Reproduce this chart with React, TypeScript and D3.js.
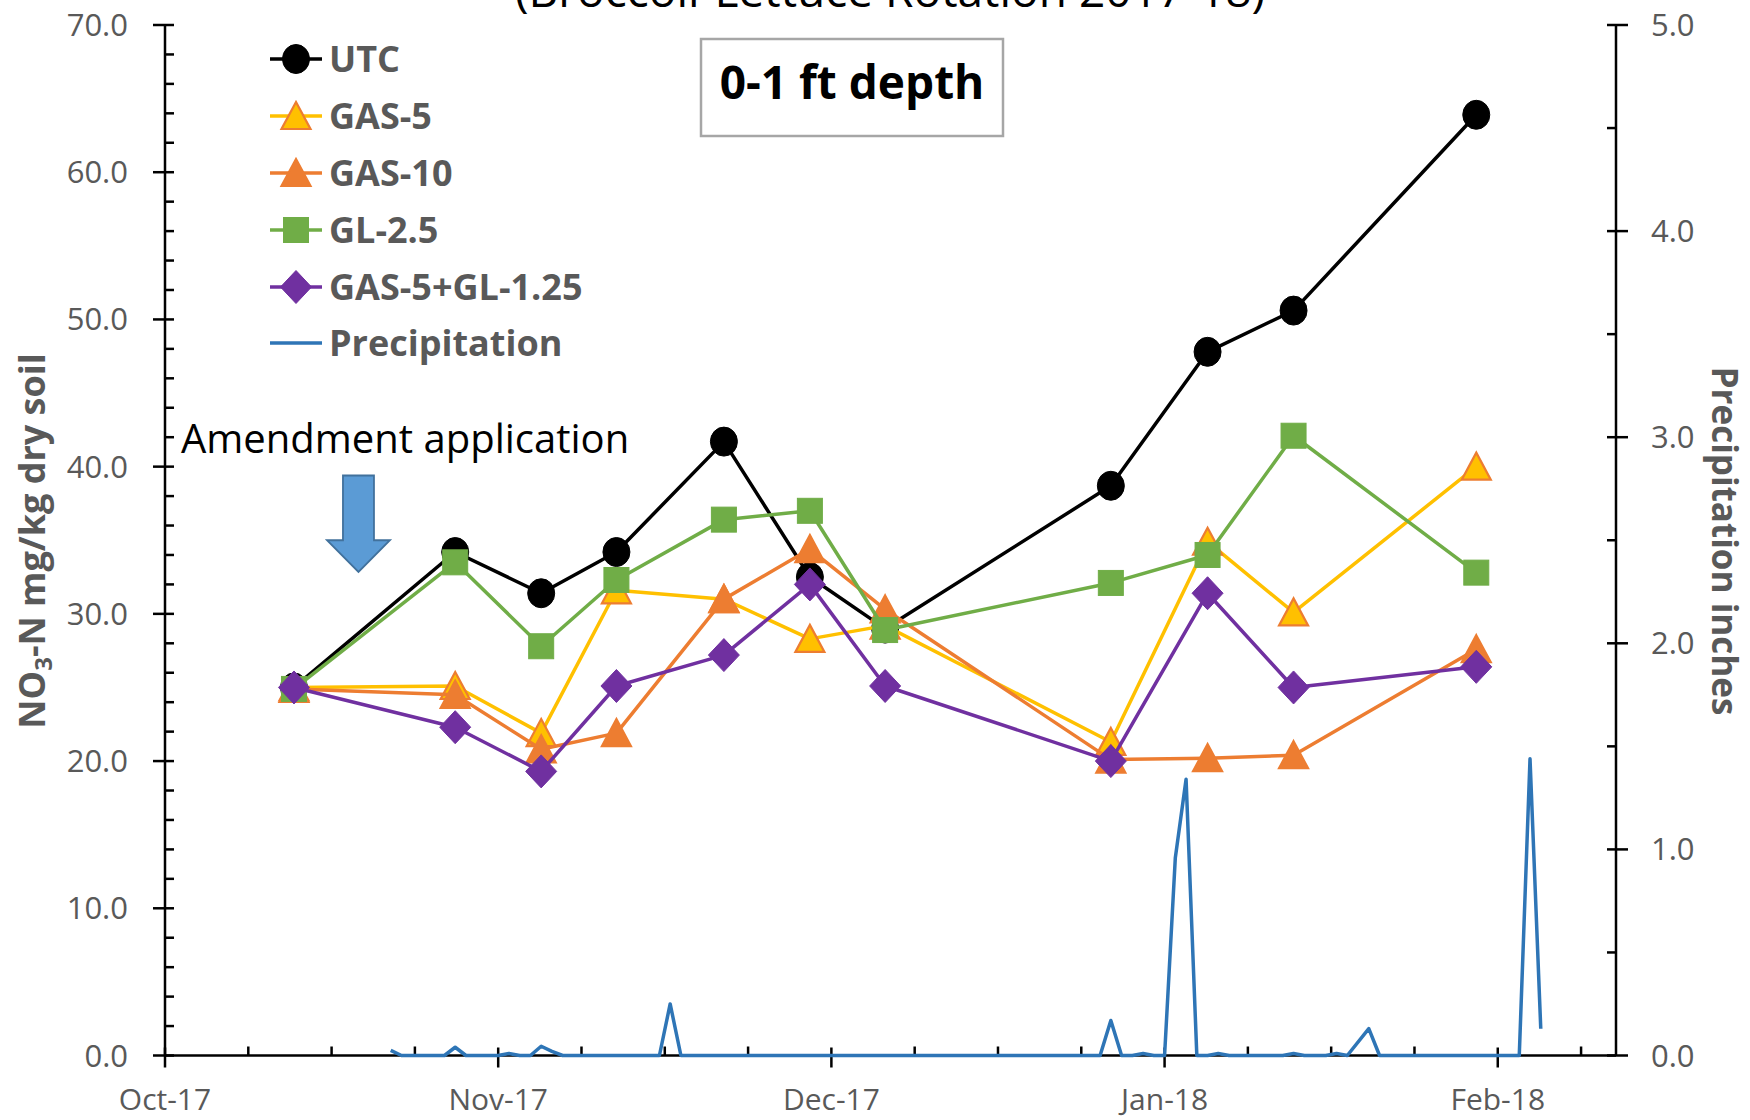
import React from 'react';
import * as d3 from 'd3';

// ---------- data ----------
const sampleDates = ['2017-10-13', '2017-10-28', '2017-11-05', '2017-11-12', '2017-11-22', '2017-11-30', '2017-12-07', '2017-12-28', '2018-01-06', '2018-01-14', '2018-01-31'];
const utc = [25.0, 34.2, 31.4, 34.2, 41.7, 32.5, 29.0, 38.7, 47.8, 50.6, 63.9];
const gas5 = [25.0, 25.1, 21.9, 31.6, 31.0, 28.3, 29.2, 21.3, 34.9, 30.1, 40.0];
const gas10 = [24.9, 24.5, 20.8, 21.9, 31.0, 34.4, 30.3, 20.1, 20.2, 20.4, 27.6];
const gl25 = [24.9, 33.5, 27.8, 32.3, 36.4, 37.0, 28.9, 32.1, 34.0, 42.1, 32.8];
const gas5gl = [25.0, 22.3, 19.3, 25.1, 27.2, 32.0, 25.1, 20.0, 31.4, 25.0, 26.4];

// daily precipitation (inches) starting 2017-10-22; null = no record
const precipStart = '2017-10-22';
const precip: (number | null)[] = [
  0.025, 0, 0, 0, 0, 0, 0.04, 0, 0, 0, 0, 0.01, 0, 0, 0.045, 0.02,
  0, 0, 0, 0, 0, 0, 0, 0, 0, 0,
  0.25,
  0, 0, 0, 0, 0, 0, 0, 0, 0, 0, 0, 0, 0, 0, 0, 0, 0, 0, 0, 0,
  0, 0, 0, 0, 0, 0, 0, 0, 0, 0, 0, 0, 0, 0, 0, 0, 0, 0, 0, 0,
  0.17, 0, 0, 0.01, 0, 0, 0.96, 1.34, 0, 0, 0.01,
  0, 0, 0, 0, 0, 0, 0.01, 0, 0, 0, 0.01, 0, null, 0.13,
  0, 0, 0, 0, 0, 0, 0, 0, 0, 0, 0, 0, 0, 0,
  1.44, 0.13,
];

const axisStart = '2017-10-01';
const xTickDays = [0, 31, 62, 93, 124];
const xTickLabels = ['Oct-17', 'Nov-17', 'Dec-17', 'Jan-18', 'Feb-18'];
const xMaxDay = 135;
const leftTicks = [0, 10, 20, 30, 40, 50, 60, 70];
const rightTicks = [0, 1, 2, 3, 4, 5];

const seriesNames = ['UTC', 'GAS-5', 'GAS-10', 'GL-2.5', 'GAS-5+GL-1.25'];
const seriesValues = [utc, gas5, gas10, gl25, gas5gl];
const seriesLine = ['#000000', '#FFC000', '#ED7D31', '#70AD47', '#7030A0'];
const seriesFill = ['#000000', '#FFC000', '#ED7D31', '#70AD47', '#7030A0'];
const seriesStroke = ['#000000', '#ED7D31', '#ED7D31', '#70AD47', '#7030A0'];
const seriesShape = ['circle', 'triangle', 'triangle', 'square', 'diamond'];
const precipColor = '#2E75B6';

// ---------- layout ----------
const W = 1750, H = 1120;
const LEFT = 165, RIGHT = 1616, TOP = 25, BOTTOM = 1055.5;
const FONT = '"Open Sans", "Noto Sans", sans-serif';
const GRAY = '#595959';

const parse = d3.timeParse('%Y-%m-%d');
const origin = parse(axisStart) as Date;
const dayOf = (s: string) => d3.timeDay.count(origin, parse(s) as Date);

const x = d3.scaleLinear().domain([0, xMaxDay]).range([LEFT, RIGHT]);
const yL = d3.scaleLinear().domain([0, 70]).range([BOTTOM, TOP]);
const yR = d3.scaleLinear().domain([0, 5]).range([BOTTOM, TOP]);

function Marker({ shape, cx, cy, fill, stroke }: any) {
  if (shape === 'circle') return <ellipse cx={cx} cy={cy} rx={13.5} ry={14.5} fill={fill} stroke={stroke} strokeWidth={1} />;
  if (shape === 'square') return <rect x={cx - 12.5} y={cy - 12.5} width={25} height={25} fill={fill} stroke={stroke} strokeWidth={1} />;
  if (shape === 'triangle') return <path d={`M${cx},${cy - 14} L${cx + 14.5},${cy + 13} L${cx - 14.5},${cy + 13} Z`} fill={fill} stroke={stroke} strokeWidth={2.2} strokeLinejoin="miter" />;
  return <path d={`M${cx},${cy - 16.5} L${cx + 15.5},${cy} L${cx},${cy + 16.5} L${cx - 15.5},${cy} Z`} fill={fill} stroke={stroke} strokeWidth={1} />;
}

export default function App() {
  const sampleDays = sampleDates.map(dayOf);
  const pStart = dayOf(precipStart);
  const precipPts = precip
    .map((v, i) => ({ d: pStart + i, v }))
    .filter((p) => p.v !== null) as { d: number; v: number }[];

  const lineL = d3.line<[number, number]>().x((p) => x(p[0])).y((p) => yL(p[1]));
  const lineP = d3.line<{ d: number; v: number }>().x((p) => x(p.d)).y((p) => yR(p.v));

  const leftMinor = d3.range(0, 70, 2).filter((v) => v % 10 !== 0);
  const rightMinor = d3.range(0.5, 5, 1);
  const xMinor = d3.range(0, xMaxDay, 31 / 4).filter((d) => !xTickDays.some((t) => Math.abs(t - d) < 0.01));

  // annotation arrow anchored to data coordinates
  const ax = x(18);
  const aTop = yL(39.4), aNeck = yL(35.0), aTip = yL(32.85);

  const legendY = [59, 116, 173, 230, 287, 343];

  return (
    <svg width={W} height={H} style={{ position: 'absolute', left: 0, top: 0, background: '#fff' }} fontFamily={FONT}>
      <rect x={0} y={0} width={W} height={H} fill="#fff" />
      {/* title (clipped at top, as in the reference) */}
      <text x={890} y={7} textAnchor="middle" fontSize={46} fill="#000">(Broccoli-Lettuce Rotation 2017-18)</text>

      {/* axes */}
      <line x1={LEFT} x2={LEFT} y1={TOP} y2={BOTTOM} stroke="#000" strokeWidth={2.5} />
      <line x1={RIGHT} x2={RIGHT} y1={TOP} y2={BOTTOM} stroke="#000" strokeWidth={2.5} />
      <line x1={LEFT} x2={RIGHT} y1={BOTTOM} y2={BOTTOM} stroke="#000" strokeWidth={2.5} />

      {leftTicks.map((v) => (
        <g key={'lt' + v}>
          <line x1={LEFT - 12} x2={LEFT + 9} y1={yL(v)} y2={yL(v)} stroke="#000" strokeWidth={2.5} />
          <text x={128} y={yL(v) + 11} textAnchor="end" fontSize={31} fill={GRAY}>{v.toFixed(1)}</text>
        </g>
      ))}
      {leftMinor.map((v) => <line key={'lm' + v} x1={LEFT} x2={LEFT + 9} y1={yL(v)} y2={yL(v)} stroke="#000" strokeWidth={2.5} />)}

      {rightTicks.map((v) => (
        <g key={'rt' + v}>
          <line x1={RIGHT - 9} x2={RIGHT + 12} y1={yR(v)} y2={yR(v)} stroke="#000" strokeWidth={2.5} />
          <text x={1651} y={yR(v) + 11} textAnchor="start" fontSize={31} fill={GRAY}>{v.toFixed(1)}</text>
        </g>
      ))}
      {rightMinor.map((v) => <line key={'rm' + v} x1={RIGHT - 9} x2={RIGHT} y1={yR(v)} y2={yR(v)} stroke="#000" strokeWidth={2.5} />)}

      {xTickDays.map((d, i) => (
        <g key={'xt' + d}>
          <line x1={x(d)} x2={x(d)} y1={BOTTOM - 8} y2={BOTTOM + 12} stroke="#000" strokeWidth={2.5} />
          <text x={x(d)} y={1110} textAnchor="middle" fontSize={30} fill={GRAY}>{xTickLabels[i]}</text>
        </g>
      ))}
      {xMinor.map((d) => <line key={'xm' + d} x1={x(d)} x2={x(d)} y1={BOTTOM - 9} y2={BOTTOM} stroke="#000" strokeWidth={2.5} />)}

      {/* axis titles */}
      <text transform={`translate(45,541) rotate(-90)`} textAnchor="middle" fontSize={36} fontWeight="bold" fill={GRAY}>
        NO<tspan fontSize={24} dy={7}>3</tspan><tspan dy={-7}>-N mg/kg dry soil</tspan>
      </text>
      <text transform={`translate(1712,541) rotate(90)`} textAnchor="middle" fontSize={35} fontWeight="bold" fill={GRAY}>Precipitation inches</text>

      {/* series */}
      {seriesValues.map((vals, si) => {
        const pts = vals.map((v, i) => [sampleDays[i], v] as [number, number]);
        return (
          <g key={seriesNames[si]}>
            <path d={lineL(pts) || ''} fill="none" stroke={seriesLine[si]} strokeWidth={3.5} strokeLinejoin="round" />
            {pts.map((p, i) => (
              <Marker key={i} shape={seriesShape[si]} cx={x(p[0])} cy={yL(p[1])} fill={seriesFill[si]} stroke={seriesStroke[si]} />
            ))}
          </g>
        );
      })}

      {/* precipitation on secondary axis */}
      <path d={lineP(precipPts) || ''} fill="none" stroke={precipColor} strokeWidth={3.5} strokeLinejoin="round" />

      {/* amendment annotation */}
      <text x={181} y={453} fontSize={40} fill="#000">Amendment application</text>
      <path
        d={`M${ax - 15.5},${aTop} L${ax + 15.5},${aTop} L${ax + 15.5},${aNeck} L${ax + 31.5},${aNeck} L${ax},${aTip} L${ax - 31.5},${aNeck} L${ax - 15.5},${aNeck} Z`}
        fill="#5B9BD5" stroke="#41719C" strokeWidth={1.8}
      />

      {/* depth box */}
      <rect x={701} y={39} width={302} height={97} fill="#fff" stroke="#A6A6A6" strokeWidth={2.5} />
      <text x={852} y={99} textAnchor="middle" fontSize={46} fontWeight="bold" fill="#000">0-1 ft depth</text>

      {/* legend */}
      {seriesNames.map((n, si) => (
        <g key={'lg' + n}>
          <line x1={270} x2={322} y1={legendY[si]} y2={legendY[si]} stroke={seriesLine[si]} strokeWidth={3.5} />
          <Marker shape={seriesShape[si]} cx={296} cy={legendY[si]} fill={seriesFill[si]} stroke={seriesStroke[si]} />
          <text x={329} y={legendY[si] + 12.5} fontSize={36} fontWeight="bold" fill={GRAY}>{n}</text>
        </g>
      ))}
      <line x1={270} x2={322} y1={legendY[5]} y2={legendY[5]} stroke={precipColor} strokeWidth={3.5} />
      <text x={329} y={legendY[5] + 12.5} fontSize={36} fontWeight="bold" fill={GRAY}>Precipitation</text>
    </svg>
  );
}
